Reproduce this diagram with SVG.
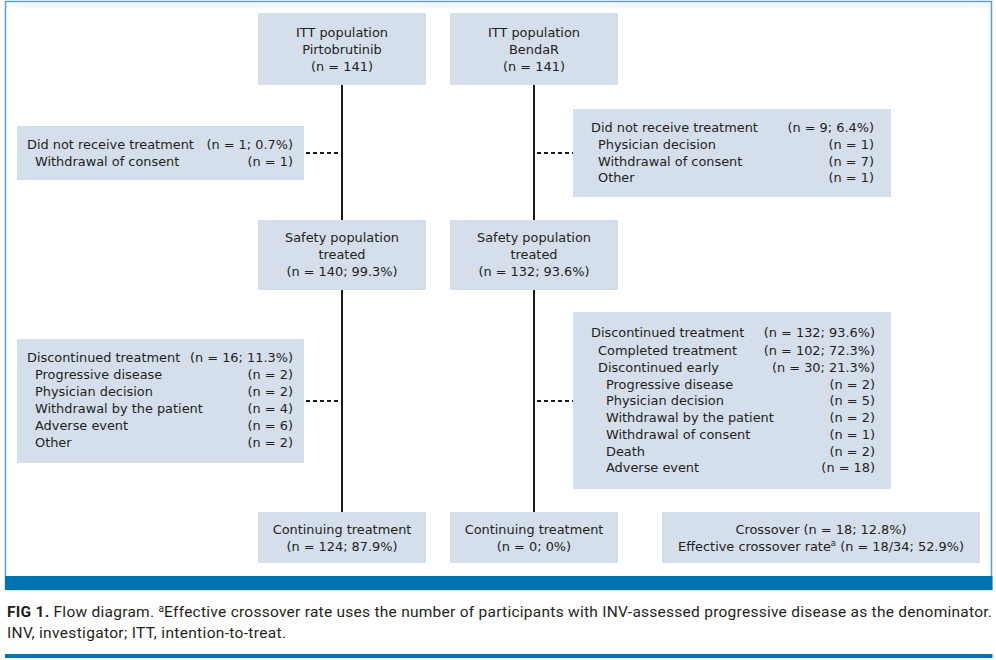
<svg xmlns="http://www.w3.org/2000/svg" width="996" height="660" viewBox="0 0 996 660">
<style>
.box{fill:#d5deeb}
.t{font-family:"DejaVu Sans",sans-serif;font-size:12.9px;fill:#231f20}
.c{text-anchor:middle}
.r{text-anchor:end}
.solid{stroke:#1a1a1a;stroke-width:2;fill:none}
.dash{stroke:#1a1a1a;stroke-width:2;stroke-dasharray:4 3;fill:none}
.cap{font-family:Roboto,"Liberation Sans",sans-serif;font-size:15.5px;fill:#231f20}
</style>
<rect x="0" y="0" width="996" height="660" fill="#ffffff"/>
<rect x="5.5" y="1.5" width="986" height="588" fill="none" stroke="#4ba3d6" stroke-width="1.5"/>
<rect x="5" y="576" width="987.5" height="14" fill="#0074b1"/>
<rect x="5" y="654" width="987.5" height="4" fill="#0074b1"/>

<g id="connectors">
<line class="solid" x1="342" y1="85" x2="342" y2="512"/>
<line class="solid" x1="534" y1="85" x2="534" y2="512"/>
<line class="dash" x1="306" y1="153" x2="342" y2="153"/>
<line class="dash" x1="537" y1="153" x2="573" y2="153"/>
<line class="dash" x1="306" y1="401" x2="342" y2="401"/>
<line class="dash" x1="537" y1="401" x2="573" y2="401"/>
</g>

<g id="itt-pirto">
<rect class="box" x="258" y="13" width="168" height="72"/>
<text class="t c" x="342" y="37">ITT population</text>
<text class="t c" x="342" y="54">Pirtobrutinib</text>
<text class="t c" x="342" y="71">(n = 141)</text>
</g>
<g id="itt-benda">
<rect class="box" x="450" y="13" width="168" height="72"/>
<text class="t c" x="534" y="37">ITT population</text>
<text class="t c" x="534" y="54">BendaR</text>
<text class="t c" x="534" y="71">(n = 141)</text>
</g>

<g id="notreated-pirto">
<rect class="box" x="17" y="126" width="287" height="54"/>
<text class="t" x="27" y="149">Did not receive treatment</text>
<text class="t r" x="293" y="149">(n = 1; 0.7%)</text>
<text class="t" x="35" y="166">Withdrawal of consent</text>
<text class="t r" x="293" y="166">(n = 1)</text>
</g>
<g id="notreated-benda">
<rect class="box" x="573" y="109" width="318" height="88"/>
<text class="t" x="591" y="132">Did not receive treatment</text>
<text class="t r" x="874" y="132">(n = 9; 6.4%)</text>
<text class="t" x="598" y="149">Physician decision</text>
<text class="t r" x="874" y="149">(n = 1)</text>
<text class="t" x="598" y="166">Withdrawal of consent</text>
<text class="t r" x="874" y="166">(n = 7)</text>
<text class="t" x="598" y="182">Other</text>
<text class="t r" x="874" y="182">(n = 1)</text>
</g>

<g id="safety-pirto">
<rect class="box" x="258" y="220" width="168" height="70"/>
<text class="t c" x="342" y="242">Safety population</text>
<text class="t c" x="342" y="259">treated</text>
<text class="t c" x="342" y="276">(n = 140; 99.3%)</text>
</g>
<g id="safety-benda">
<rect class="box" x="450" y="220" width="168" height="70"/>
<text class="t c" x="534" y="242">Safety population</text>
<text class="t c" x="534" y="259">treated</text>
<text class="t c" x="534" y="276">(n = 132; 93.6%)</text>
</g>

<g id="disc-pirto">
<rect class="box" x="17" y="339" width="287" height="124"/>
<text class="t" x="27" y="362">Discontinued treatment</text>
<text class="t r" x="293" y="362">(n = 16; 11.3%)</text>
<text class="t" x="35" y="379">Progressive disease</text>
<text class="t r" x="293" y="379">(n = 2)</text>
<text class="t" x="35" y="396">Physician decision</text>
<text class="t r" x="293" y="396">(n = 2)</text>
<text class="t" x="35" y="413">Withdrawal by the patient</text>
<text class="t r" x="293" y="413">(n = 4)</text>
<text class="t" x="35" y="430">Adverse event</text>
<text class="t r" x="293" y="430">(n = 6)</text>
<text class="t" x="35" y="447">Other</text>
<text class="t r" x="293" y="447">(n = 2)</text>
</g>
<g id="disc-benda">
<rect class="box" x="573" y="312" width="318" height="177"/>
<text class="t" x="591" y="337">Discontinued treatment</text>
<text class="t r" x="875" y="337">(n = 132; 93.6%)</text>
<text class="t" x="598" y="355">Completed treatment</text>
<text class="t r" x="875" y="355">(n = 102; 72.3%)</text>
<text class="t" x="598" y="372">Discontinued early</text>
<text class="t r" x="875" y="372">(n = 30; 21.3%)</text>
<text class="t" x="606" y="389">Progressive disease</text>
<text class="t r" x="875" y="389">(n = 2)</text>
<text class="t" x="606" y="405">Physician decision</text>
<text class="t r" x="875" y="405">(n = 5)</text>
<text class="t" x="606" y="422">Withdrawal by the patient</text>
<text class="t r" x="875" y="422">(n = 2)</text>
<text class="t" x="606" y="439">Withdrawal of consent</text>
<text class="t r" x="875" y="439">(n = 1)</text>
<text class="t" x="606" y="456">Death</text>
<text class="t r" x="875" y="456">(n = 2)</text>
<text class="t" x="606" y="472">Adverse event</text>
<text class="t r" x="875" y="472">(n = 18)</text>
</g>

<g id="cont-pirto">
<rect class="box" x="258" y="512" width="168" height="51"/>
<text class="t c" x="342" y="534">Continuing treatment</text>
<text class="t c" x="342" y="551">(n = 124; 87.9%)</text>
</g>
<g id="cont-benda">
<rect class="box" x="450" y="512" width="168" height="51"/>
<text class="t c" x="534" y="534">Continuing treatment</text>
<text class="t c" x="534" y="551">(n = 0; 0%)</text>
</g>
<g id="crossover">
<rect class="box" x="662" y="512" width="318" height="51"/>
<text class="t c" x="821" y="534">Crossover (n = 18; 12.8%)</text>
<text class="t c" x="821" y="551">Effective crossover rate<tspan font-size="8.5px" dy="-5">a</tspan><tspan dy="5"> (n = 18/34; 52.9%)</tspan></text>
</g>

<text class="cap" x="7" y="617" textLength="985" lengthAdjust="spacing"><tspan font-weight="bold">FIG 1.</tspan>  Flow diagram. <tspan font-size="10px" dy="-5">a</tspan><tspan dy="5">Effective crossover rate uses the number of participants with INV-assessed progressive disease as the denominator.</tspan></text>
<text class="cap" x="7" y="638" textLength="279" lengthAdjust="spacing">INV, investigator; ITT, intention-to-treat.</text>
</svg>
